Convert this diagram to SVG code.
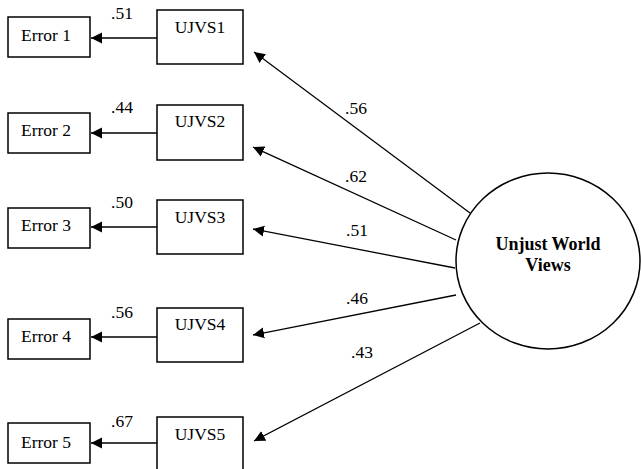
<svg xmlns="http://www.w3.org/2000/svg" width="641" height="469" viewBox="0 0 641 469">
  <style>
    .box { fill: #fff; stroke: #000; stroke-width: 1.5; }
    .edge { fill: none; stroke: #000; stroke-width: 1.5; marker-end: url(#arrow); }
    .load { stroke-width: 1.3; }
    text { font-family: "Liberation Serif", Tinos, "Times New Roman", Times, "DejaVu Serif", serif; font-size: 17.5px; fill: #000; }
    .mid { text-anchor: middle; }
    .latent { font-weight: bold; font-size: 18px; text-anchor: middle; }
  </style>
  <defs>
    <marker id="arrow" markerUnits="userSpaceOnUse" markerWidth="12" markerHeight="12" refX="11" refY="6" orient="auto">
      <path d="M0,0.5 L11,6 L0,11.5 Z" fill="#000"/>
    </marker>
  </defs>
  <rect width="641" height="469" fill="#fff"/>

  <!-- connectors -->
  <g id="connectors">
    <line class="edge" x1="157" y1="38" x2="91" y2="38"/>
    <line class="edge" x1="157" y1="133" x2="91" y2="133"/>
    <line class="edge" x1="157" y1="227" x2="91" y2="227"/>
    <line class="edge" x1="157" y1="337" x2="91" y2="337"/>
    <line class="edge" x1="157" y1="443" x2="91" y2="443"/>
    <line class="edge load" x1="470" y1="213" x2="254" y2="52"/>
    <line class="edge load" x1="456" y1="240" x2="253" y2="147"/>
    <line class="edge load" x1="455" y1="268" x2="253" y2="229"/>
    <line class="edge load" x1="456" y1="295" x2="253" y2="335"/>
    <line class="edge load" x1="480" y1="323" x2="254" y2="441"/>
    <text x="111" y="19">.51</text>
    <text x="111" y="113">.44</text>
    <text x="111" y="208">.50</text>
    <text x="111" y="318">.56</text>
    <text x="111" y="427">.67</text>
    <text x="345" y="114">.56</text>
    <text x="345" y="182">.62</text>
    <text x="346" y="236">.51</text>
    <text x="346" y="304">.46</text>
    <text x="351" y="358">.43</text>
  </g>

  <!-- error terms -->
  <g id="error1"><rect class="box" x="8" y="17" width="82" height="40"/><text class="mid" x="46" y="41">Error 1</text></g>
  <g id="error2"><rect class="box" x="8" y="113" width="82" height="40"/><text class="mid" x="46" y="136">Error 2</text></g>
  <g id="error3"><rect class="box" x="8" y="208" width="82" height="40"/><text class="mid" x="46" y="231">Error 3</text></g>
  <g id="error4"><rect class="box" x="8" y="319" width="82" height="40"/><text class="mid" x="46" y="342">Error 4</text></g>
  <g id="error5"><rect class="box" x="8" y="423" width="82" height="40"/><text class="mid" x="46" y="448">Error 5</text></g>

  <!-- observed items -->
  <g id="ujvs1"><rect class="box" x="157" y="10" width="86" height="54"/><text class="mid" x="200" y="33">UJVS1</text></g>
  <g id="ujvs2"><rect class="box" x="157" y="105" width="86" height="55"/><text class="mid" x="200" y="127">UJVS2</text></g>
  <g id="ujvs3"><rect class="box" x="157" y="200" width="86" height="54"/><text class="mid" x="200" y="223">UJVS3</text></g>
  <g id="ujvs4"><rect class="box" x="157" y="308" width="86" height="54"/><text class="mid" x="200" y="330">UJVS4</text></g>
  <g id="ujvs5"><rect class="box" x="157" y="417" width="86" height="56"/><text class="mid" x="200" y="440">UJVS5</text></g>

  <!-- latent factor -->
  <g id="unjust-world-views">
    <ellipse class="box" cx="548" cy="261" rx="92" ry="88"/>
    <text class="latent" x="548" y="250">Unjust World</text>
    <text class="latent" x="548" y="271">Views</text>
  </g>
</svg>
